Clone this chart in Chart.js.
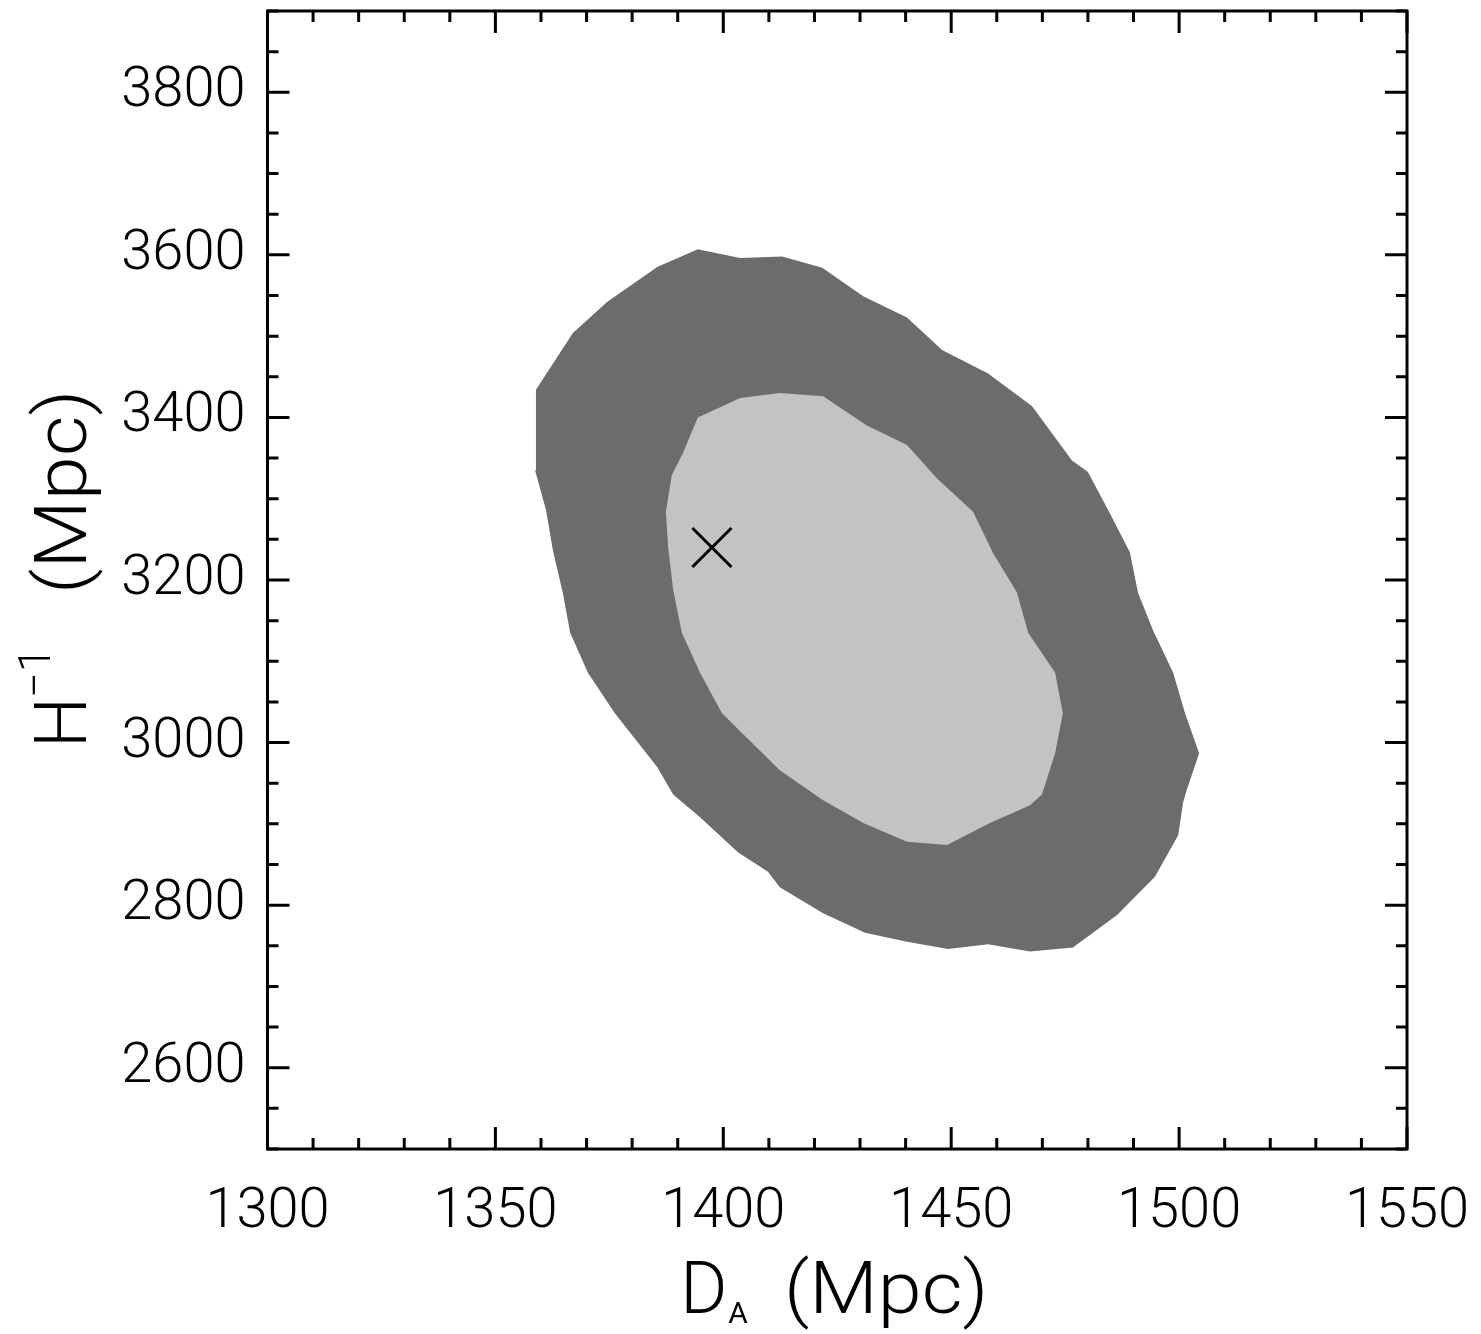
<!DOCTYPE html>
<html>
<head>
<meta charset="utf-8">
<script src="https://cdn.jsdelivr.net/npm/chart.js@4/dist/chart.umd.min.js"></script>
<style>
  html, body { margin: 0; padding: 0; background: #ffffff; }
  #wrap { width: 1481px; height: 1334px; }
</style>
</head>
<body>
<div id="wrap"><canvas id="c" width="1481" height="1334"></canvas></div>
<script>
// Axis ranges and tick labels
const xRange = [1300, 1550];
const yRange = [2500, 3900];
const xTicks = [1300, 1350, 1400, 1450, 1500, 1550];
const yTicks = [2600, 2800, 3000, 3200, 3400, 3600, 3800];
const xMinorStep = 10;
const yMinorStep = 50;

// Outer confidence contour, [D_A, 1/H] in Mpc
const outerContour = [
  [1394.4, 3607], [1403.7, 3596], [1412.9, 3598], [1421.7, 3584], [1430.7, 3549],
  [1440.3, 3523], [1448.0, 3483], [1458.1, 3454], [1467.7, 3414], [1476.5, 3347],
  [1480.0, 3333], [1484.8, 3282], [1489.2, 3234], [1491.0, 3184], [1494.3, 3138],
  [1498.7, 3086], [1501.3, 3036], [1504.4, 2987], [1501.7, 2942], [1500.9, 2927],
  [1499.8, 2886], [1494.7, 2835], [1486.4, 2788], [1476.7, 2748], [1467.3, 2743],
  [1458.1, 2752], [1449.3, 2746], [1440.3, 2755], [1431.1, 2766], [1421.9, 2790],
  [1412.4, 2822], [1409.8, 2841], [1403.2, 2865], [1394.9, 2908], [1389.0, 2936],
  [1385.5, 2970], [1376.2, 3036], [1370.3, 3086], [1366.4, 3135], [1364.8, 3184],
  [1362.6, 3237], [1361.1, 3286], [1358.7, 3335], [1358.9, 3434], [1367.0, 3504],
  [1374.5, 3542], [1385.5, 3585]
];

// Inner confidence contour
const innerContour = [
  [1394.4, 3400], [1403.7, 3424], [1412.4, 3430], [1421.9, 3426], [1431.5, 3390],
  [1440.3, 3366], [1446.9, 3325], [1454.8, 3284], [1459.2, 3233], [1464.4, 3185],
  [1466.9, 3135], [1472.8, 3086], [1474.5, 3036], [1472.8, 2987], [1469.9, 2936],
  [1467.3, 2923], [1458.5, 2901], [1449.1, 2874], [1440.3, 2878], [1430.7, 2901],
  [1421.9, 2929], [1412.4, 2966], [1399.7, 3036], [1394.9, 3086], [1390.9, 3135],
  [1389.0, 3188], [1387.9, 3240], [1387.4, 3284], [1388.7, 3329], [1391.2, 3357]
];

// Best-fit point
const bestFit = [1397.5, 3240];

const toPoints = (arr) => {
  const pts = arr.map(([x, y]) => ({ x, y }));
  pts.push({ x: arr[0][0], y: arr[0][1] });
  return pts;
};

const FONT = 'Roboto';

// Frame with inward major/minor ticks on all four sides
const framePlugin = {
  id: 'frame',
  afterDraw(chart) {
    const { ctx, chartArea: a, scales: { x, y } } = chart;
    ctx.save();
    ctx.strokeStyle = '#000';
    ctx.lineWidth = 3;
    ctx.lineCap = 'butt';
    const major = 22, minor = 11;
    ctx.beginPath();
    for (let v = xRange[0]; v <= xRange[1] + 1e-9; v += xMinorStep) {
      const px = x.getPixelForValue(v);
      const len = xTicks.includes(v) ? major : minor;
      ctx.moveTo(px, a.bottom); ctx.lineTo(px, a.bottom - len);
      ctx.moveTo(px, a.top); ctx.lineTo(px, a.top + len);
    }
    for (let v = yRange[0]; v <= yRange[1] + 1e-9; v += yMinorStep) {
      const py = y.getPixelForValue(v);
      const len = yTicks.includes(v) ? major : minor;
      ctx.moveTo(a.left, py); ctx.lineTo(a.left + len, py);
      ctx.moveTo(a.right, py); ctx.lineTo(a.right - len, py);
    }
    ctx.stroke();
    ctx.strokeRect(a.left, a.top, a.right - a.left, a.bottom - a.top);
    ctx.restore();
  }
};

// Draws text stretched horizontally by factor k, starting at x
function wideText(ctx, text, x, y, k) {
  ctx.save();
  ctx.translate(x, y);
  ctx.scale(k, 1);
  ctx.fillText(text, 0, 0);
  ctx.restore();
  return ctx.measureText(text).width * k;
}

// Axis titles with subscript / superscript
const titlePlugin = {
  id: 'axisTitles',
  afterDraw(chart) {
    const { ctx, chartArea: a } = chart;
    const stretch = 1.1;
    ctx.save();
    ctx.fillStyle = '#000';
    ctx.textBaseline = 'alphabetic';
    ctx.textAlign = 'left';

    // x title: D_A (Mpc)
    const bigFont = `300 72px ${FONT}`;
    const subFont = `400 30px ${FONT}`;
    ctx.font = bigFont;
    const wD = ctx.measureText('D').width;
    const wP = ctx.measureText('(Mpc)').width * stretch;
    ctx.font = subFont;
    const wA = ctx.measureText('A').width;
    const gap = 36;
    const total = wD + 1 + wA + gap + wP;
    const cx = (a.left + a.right) / 2 - 3;
    const xs = cx - total / 2;
    const base = a.bottom + 164;
    ctx.font = bigFont;
    ctx.fillText('D', xs, base);
    ctx.font = subFont;
    ctx.fillText('A', xs + wD + 1, base + 10);
    ctx.font = bigFont;
    wideText(ctx, '(Mpc)', xs + wD + 1 + wA + gap, base, stretch);

    // y title: H^-1 (Mpc), rotated
    ctx.translate(86, (a.top + a.bottom) / 2 + 168);
    ctx.rotate(-Math.PI / 2);
    ctx.font = bigFont;
    ctx.fillText('H', 0, 0);
    ctx.font = `300 45px ${FONT}`;
    ctx.fillText('\u22121', 50, -36);
    ctx.font = bigFont;
    wideText(ctx, '(Mpc)', 154, 0, stretch);
    ctx.restore();
  }
};

new Chart(document.getElementById('c'), {
  type: 'line',
  data: {
    datasets: [
      {
        label: 'best fit',
        type: 'scatter',
        data: [{ x: bestFit[0], y: bestFit[1] }],
        pointStyle: 'crossRot',
        pointRadius: 27.6,
        pointHoverRadius: 27.6,
        borderColor: '#000',
        borderWidth: 3,
        backgroundColor: '#000',
        order: 0
      },
      {
        label: 'inner',
        data: toPoints(innerContour),
        borderWidth: 0,
        borderColor: 'rgba(0,0,0,0)',
        backgroundColor: '#c3c3c3',
        fill: 'shape',
        pointRadius: 0,
        tension: 0,
        order: 1
      },
      {
        label: 'outer',
        data: toPoints(outerContour),
        borderWidth: 0,
        borderColor: 'rgba(0,0,0,0)',
        backgroundColor: '#6c6c6c',
        fill: 'shape',
        pointRadius: 0,
        tension: 0,
        order: 2
      }
    ]
  },
  options: {
    responsive: false,
    animation: false,
    devicePixelRatio: 1,
    layout: { autoPadding: false, padding: { left: 0, top: 11, right: 74, bottom: 0 } },
    plugins: {
      legend: { display: false },
      tooltip: { enabled: false },
      title: { display: false }
    },
    events: [],
    scales: {
      x: {
        type: 'linear',
        position: 'bottom',
        min: xRange[0],
        max: xRange[1],
        grid: { display: false, drawTicks: false },
        border: { display: false },
        afterBuildTicks: (s) => { s.ticks = xTicks.map(v => ({ value: v })); },
        afterFit: (s) => {
          s.height = 185;
          s.paddingLeft = 0; s.paddingRight = 0; s.paddingTop = 0; s.paddingBottom = 0;
        },
        ticks: {
          padding: 30,
          maxRotation: 0,
          autoSkip: false,
          color: '#000',
          font: { family: FONT, size: 56, weight: 300 },
          callback: (v) => String(v)
        }
      },
      y: {
        type: 'linear',
        position: 'left',
        min: yRange[0],
        max: yRange[1],
        grid: { display: false, drawTicks: false },
        border: { display: false },
        afterBuildTicks: (s) => { s.ticks = yTicks.map(v => ({ value: v })); },
        afterFit: (s) => {
          s.width = 267.5;
          s.paddingLeft = 0; s.paddingRight = 0; s.paddingTop = 0; s.paddingBottom = 0;
        },
        ticks: {
          padding: 22,
          autoSkip: false,
          color: '#000',
          font: { family: FONT, size: 56, weight: 300 },
          callback: (v) => String(v)
        }
      }
    }
  },
  plugins: [framePlugin, titlePlugin]
});
</script>
</body>
</html>
